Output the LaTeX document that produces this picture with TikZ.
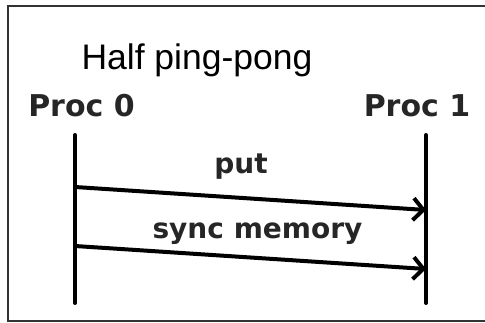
\documentclass[tikz,border=0pt]{standalone}
\usepackage{fontspec}
\setmainfont{Liberation Sans}
\newfontfamily\dejavu{DejaVu Sans}
\usetikzlibrary{arrows.meta,positioning}

\begin{document}
\begin{tikzpicture}[x=1pt,y=1pt,
    proc/.style={font=\dejavu\bfseries\fontsize{30}{30}\selectfont,text=black!85,anchor=base,inner sep=0pt},
    msg/.style={font=\dejavu\bfseries\fontsize{28}{28}\selectfont,text=black!85,anchor=base,inner sep=0pt},
    life/.style={line width=4pt,line cap=round},
    >={Straight Barb[length=10pt,width=22pt]}]
  \useasboundingbox (0,0) rectangle (485,322);
  \draw[line width=1.2pt,black!80] (8,1) rectangle (490,316);
  \node[anchor=base,inner sep=0pt,font=\fontsize{35.5}{36}\selectfont] (title) at (197,252) {Half ping-pong};
  \node[proc] (p0) at (81.5,205) {Proc 0};
  \node[proc] (p1) at (417,205) {Proc 1};
  % lifelines
  \coordinate (p0top) at (75,187);
  \coordinate (p0bot) at (75,19);
  \coordinate (p1top) at (426,187);
  \coordinate (p1bot) at (426,19);
  \draw[life] (p0top) -- (p0bot);
  \draw[life] (p1top) -- (p1bot);
  % messages
  \coordinate (putA) at (75,135);
  \coordinate (putB) at (426,112);
  \coordinate (syncA) at (75,76);
  \coordinate (syncB) at (426,53);
  \draw[life,->] (putA) -- (putB);
  \draw[life,->] (syncA) -- (syncB);
  \node[msg] (put) at (241,149) {put};
  \node[msg] (sync) at (257.5,84) {sync memory};
\end{tikzpicture}
\end{document}
